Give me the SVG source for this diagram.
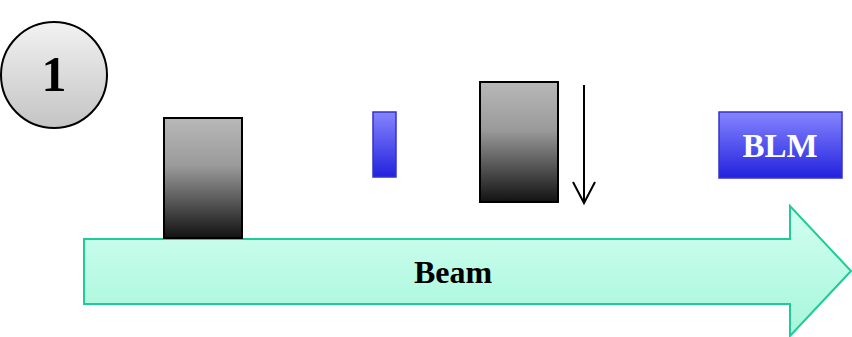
<svg xmlns="http://www.w3.org/2000/svg" width="852" height="337" viewBox="0 0 852 337">
<defs>
<linearGradient id="gGray" x1="0" y1="0" x2="0" y2="1">
<stop offset="0" stop-color="#b8b8b8"/><stop offset="0.4" stop-color="#9a9a9a"/><stop offset="1" stop-color="#121212"/>
</linearGradient>
<linearGradient id="gBlue" x1="0" y1="0" x2="0" y2="1">
<stop offset="0" stop-color="#8585ff"/><stop offset="1" stop-color="#2222dd"/>
</linearGradient>
<linearGradient id="gBeam" x1="0" y1="0" x2="0" y2="1">
<stop offset="0" stop-color="#d2fff0"/><stop offset="1" stop-color="#a6f6da"/>
</linearGradient>
<linearGradient id="gCircle" x1="0" y1="0" x2="0" y2="1">
<stop offset="0" stop-color="#f2f2f2"/><stop offset="1" stop-color="#c4c4c4"/>
</linearGradient>
</defs>
<style>
.gray{fill:url(#gGray);stroke:#000;stroke-width:2}
.blue{fill:url(#gBlue);stroke:#3333cc;stroke-width:1.5}
.lbl{font-family:"Liberation Serif",serif;font-weight:bold;text-anchor:middle}
</style>
<g id="beam">
<path d="M84,239 H790 V206 L851,271 L790,336 V304 H84 Z" fill="url(#gBeam)" stroke="#1ecc98" stroke-width="2"/>
<text class="lbl" x="453" y="283" font-size="32" fill="#000">Beam</text>
</g>
<g id="step">
<circle cx="54" cy="75" r="53" fill="url(#gCircle)" stroke="#000" stroke-width="2"/>
<text class="lbl" x="54" y="91" font-size="50" fill="#000">1</text>
</g>
<g id="block1"><rect class="gray" x="164" y="118" width="78" height="120"/></g>
<g id="blue1"><rect class="blue" x="373" y="112" width="23" height="65"/></g>
<g id="block2"><rect class="gray" x="480" y="82" width="78" height="120"/></g>
<g id="blm">
<rect class="blue" x="719" y="112" width="123" height="66"/>
<text class="lbl" x="780" y="157" font-size="33" fill="#fff">BLM</text>
</g>
<g id="connectors">
<line x1="584" y1="85" x2="584" y2="203" stroke="#000" stroke-width="2"/>
<polyline points="573,182 584,203 595,182" fill="none" stroke="#000" stroke-width="2"/>
</g>
</svg>
